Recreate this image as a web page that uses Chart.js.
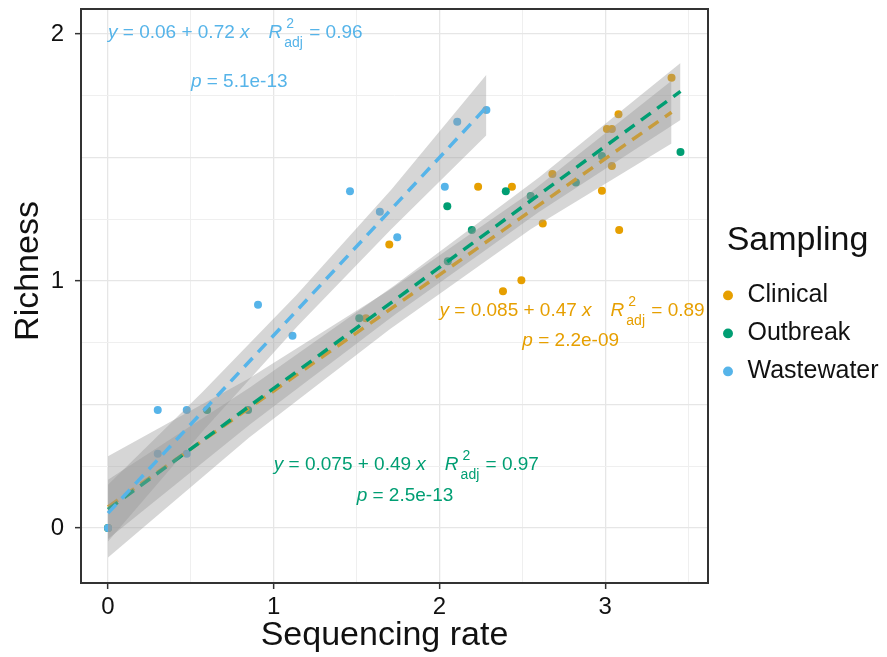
<!DOCTYPE html>
<html>
<head>
<meta charset="utf-8">
<script src="https://cdn.jsdelivr.net/npm/chart.js@4.4.1/dist/chart.umd.min.js"></script>
<style>
  html, body { margin: 0; padding: 0; background: #fff; }
</style>
</head>
<body>
<canvas id="myChart" width="887" height="657"></canvas>
<script>
var FONT = "'Liberation Sans', Arial, Helvetica, sans-serif";

var groups = ['Clinical', 'Outbreak', 'Wastewater'];
var colors = ['#E69F00', '#009E73', '#56B4E9'];

// points
var clinicalX = [0, 1.556, 1.697, 2.233, 2.383, 2.437, 2.494, 2.623, 2.681, 2.98, 3.01, 3.04, 3.04, 3.08, 3.084, 3.40];
var clinicalY = [0, 0.849, 1.148, 1.381, 0.958, 1.381, 1.003, 1.233, 1.433, 1.365, 1.615, 1.615, 1.465, 1.675, 1.206, 1.823];
var outbreakX = [0, 0.598, 0.845, 1.516, 2.047, 2.05, 2.195, 2.40, 2.55, 2.823, 2.98, 3.454];
var outbreakY = [0, 0.477, 0.477, 0.849, 1.302, 1.08, 1.206, 1.363, 1.344, 1.399, 1.506, 1.522];
var wastewaterX = [0, 0.30, 0.30, 0.475, 0.475, 0.905, 1.113, 1.46, 1.64, 1.745, 2.032, 2.107, 2.283];
var wastewaterY = [0, 0.477, 0.30, 0.477, 0.30, 0.904, 0.778, 1.363, 1.28, 1.177, 1.381, 1.645, 1.692];

// fitted lines (as printed on the chart)
var fitIntercept = [0.085, 0.075, 0.06];
var fitSlope = [0.47, 0.49, 0.72];
var fitR2 = ['0.89', '0.97', '0.96'];
var fitP = ['2.2e-09', '2.5e-13', '5.1e-13'];

// confidence bands
var clinicalBandX = [0, 0.85, 1.7, 2.55, 3.40];
var clinicalBandLo = [-0.12, 0.365, 0.804, 1.209, 1.556];
var clinicalBandHi = [0.29, 0.605, 0.964, 1.359, 1.81];
var outbreakBandX = [0, 0.86, 1.73, 2.6, 3.454];
var outbreakBandLo = [-0.045, 0.421, 0.863, 1.279, 1.652];
var outbreakBandHi = [0.195, 0.571, 0.983, 1.419, 1.882];
var wastewaterBandX = [0, 0.57, 1.14, 1.71, 2.283];
var wastewaterBandLo = [-0.055, 0.39, 0.815, 1.21, 1.59];
var wastewaterBandHi = [0.175, 0.55, 0.945, 1.37, 1.835];

// axes
var xGrid = [0, 0.5, 1, 1.5, 2, 2.5, 3, 3.5];
var yGrid = [0, 0.25, 0.5, 0.75, 1, 1.25, 1.5, 1.75, 2];
var xTickLabels = ['0', '1', '2', '3'];
var yTickLabels = ['0', '1', '2'];

var pointX = [clinicalX, outbreakX, wastewaterX];
var pointY = [clinicalY, outbreakY, wastewaterY];
var bandX = [clinicalBandX, outbreakBandX, wastewaterBandX];
var bandLo = [clinicalBandLo, outbreakBandLo, wastewaterBandLo];
var bandHi = [clinicalBandHi, outbreakBandHi, wastewaterBandHi];

// where the equation labels sit (data units)
var labelPos = [
  { x1: 2.0, y1: 0.878, x2: 2.5, y2: 0.757 },
  { x1: 1.0, y1: 0.254, x2: 1.5, y2: 0.132 },
  { x1: 0.0, y1: 2.004, x2: 0.5, y2: 1.806 }
];

function pts(xs, ys) {
  return xs.map(function (x, i) { return { x: x, y: ys[i] }; });
}

var datasets = [];
groups.forEach(function (g, i) {
  datasets.push({
    type: 'scatter',
    label: g,
    data: pts(pointX[i], pointY[i]),
    backgroundColor: colors[i],
    borderWidth: 0,
    pointRadius: 4,
    order: 102 - i
  });
});
groups.forEach(function (g, i) {
  var base = 60 - i * 20;
  datasets.push({
    type: 'line', label: g + ' band',
    data: pts(bandX[i], bandHi[i]),
    borderColor: 'rgba(0,0,0,0)', borderWidth: 0, pointRadius: 0,
    fill: '+1', backgroundColor: 'rgba(153,153,153,0.4)',
    order: base
  });
  datasets.push({
    type: 'line', label: g + ' band lo',
    data: pts(bandX[i], bandLo[i]),
    borderColor: 'rgba(0,0,0,0)', borderWidth: 0, pointRadius: 0,
    fill: false, order: base + 1
  });
  var x0 = Math.min.apply(null, pointX[i]);
  var x1 = Math.max.apply(null, pointX[i]);
  datasets.push({
    type: 'line', label: g + ' fit',
    data: [
      { x: x0, y: fitIntercept[i] + fitSlope[i] * x0 },
      { x: x1, y: fitIntercept[i] + fitSlope[i] * x1 }
    ],
    borderColor: colors[i], borderWidth: 3.5, borderDash: [12, 8],
    pointRadius: 0, fill: false, order: base - 5
  });
});

function isMajorX(v) { return xTickLabels.indexOf(String(v)) >= 0; }
function isMajorY(v) { return yTickLabels.indexOf(String(v)) >= 0; }

// panel border
var panelBorder = {
  id: 'panelBorder',
  afterDraw: function (chart) {
    var a = chart.chartArea, ctx = chart.ctx;
    ctx.save();
    ctx.strokeStyle = '#333333';
    ctx.lineWidth = 2;
    ctx.strokeRect(a.left, a.top, a.right - a.left, a.bottom - a.top);
    ctx.restore();
  }
};

// axis titles
var axisTitles = {
  id: 'axisTitles',
  afterDraw: function (chart) {
    var a = chart.chartArea, ctx = chart.ctx;
    ctx.save();
    ctx.fillStyle = '#111111';
    ctx.font = '34px ' + FONT;
    ctx.textAlign = 'center';
    ctx.textBaseline = 'middle';
    ctx.fillText('Sequencing rate', (a.left + a.right) / 2 - 10, a.bottom + 53);
    ctx.translate(a.left - 52, (a.top + a.bottom) / 2 - 25);
    ctx.rotate(-Math.PI / 2);
    ctx.fillText('Richness', 0, 0);
    ctx.restore();
  }
};

// equation labels
function runs(ctx, x, y, parts, size) {
  parts.forEach(function (p) {
    ctx.font = (p.it ? 'italic ' : '') + size + 'px ' + FONT;
    ctx.fillText(p.t, x, y);
    x += ctx.measureText(p.t).width;
  });
  return x;
}
var eqLabels = {
  id: 'eqLabels',
  afterDatasetsDraw: function (chart) {
    var ctx = chart.ctx, xs = chart.scales.x, ys = chart.scales.y;
    ctx.save();
    ctx.textAlign = 'left';
    ctx.textBaseline = 'middle';
    groups.forEach(function (g, i) {
      var pos = labelPos[i];
      ctx.fillStyle = colors[i];
      var x = xs.getPixelForValue(pos.x1), y = ys.getPixelForValue(pos.y1);
      x = runs(ctx, x, y, [
        { t: 'y', it: true },
        { t: ' = ' + fitIntercept[i] + ' + ' + fitSlope[i] + ' ' },
        { t: 'x', it: true }
      ], 19);
      x += 19;
      x = runs(ctx, x, y, [{ t: 'R', it: true }], 19);
      ctx.font = '14px ' + FONT;
      var w = Math.max(ctx.measureText('2').width, ctx.measureText('adj').width);
      ctx.fillText('2', x + 4, y - 9);
      ctx.fillText('adj', x + 2, y + 10);
      x += w + 3;
      runs(ctx, x, y, [{ t: ' = ' + fitR2[i] }], 19);

      var px = xs.getPixelForValue(pos.x2), py = ys.getPixelForValue(pos.y2);
      runs(ctx, px, py, [{ t: 'p', it: true }, { t: ' = ' + fitP[i] }], 19);
    });
    ctx.restore();
  }
};

var ctx = document.getElementById('myChart').getContext('2d');
var myChart = new Chart(ctx, {
  type: 'scatter',
  data: { datasets: datasets },
  plugins: [panelBorder, axisTitles, eqLabels],
  options: {
    responsive: false,
    animation: false,
    events: [],
    layout: { padding: { top: 9, left: 0, right: 0, bottom: 0 } },
    scales: {
      x: {
        type: 'linear',
        min: -0.163,
        max: 3.62,
        afterBuildTicks: function (s) { s.ticks = xGrid.map(function (v) { return { value: v }; }); },
        afterFit: function (s) { s.height = 74; s.paddingLeft = 0; s.paddingRight = 0; },
        border: { display: false },
        ticks: {
          autoSkip: false, maxRotation: 0, padding: 4,
          color: '#111111',
          font: { size: 24, family: FONT },
          callback: function (v) { return isMajorX(v) ? String(v) : ''; }
        },
        grid: {
          color: function (c) { return isMajorX(c.tick.value) ? '#e6e6e6' : '#efefef'; },
          lineWidth: function (c) { return isMajorX(c.tick.value) ? 1.3 : 1; },
          tickLength: 6,
          tickWidth: 1.5,
          tickColor: function (c) { return isMajorX(c.tick.value) ? '#333333' : 'rgba(0,0,0,0)'; }
        }
      },
      y: {
        type: 'linear',
        min: -0.223,
        max: 2.101,
        afterBuildTicks: function (s) { s.ticks = yGrid.map(function (v) { return { value: v }; }); },
        afterFit: function (s) { s.width = 81; s.paddingTop = 0; s.paddingBottom = 0; },
        border: { display: false },
        ticks: {
          autoSkip: false, padding: 11,
          color: '#111111',
          font: { size: 24, family: FONT },
          callback: function (v) { return isMajorY(v) ? String(v) : ''; }
        },
        grid: {
          color: function (c) { return c.tick.value % 0.5 === 0 ? '#e6e6e6' : '#efefef'; },
          lineWidth: function (c) { return c.tick.value % 0.5 === 0 ? 1.3 : 1; },
          tickLength: 6,
          tickWidth: 1.5,
          tickColor: function (c) { return isMajorY(c.tick.value) ? '#333333' : 'rgba(0,0,0,0)'; }
        }
      }
    },
    plugins: {
      filler: { drawTime: 'beforeDatasetDraw' },
      tooltip: { enabled: false },
      legend: {
        position: 'right',
        fullSize: false,
        maxWidth: 179,
        title: {
          display: true,
          text: 'Sampling',
          color: '#111111',
          position: 'center',
          font: { size: 34, family: FONT },
          padding: { top: 29, bottom: 5 }
        },
        labels: {
          color: '#111111',
          font: { size: 25, family: FONT },
          usePointStyle: true,
          boxWidth: 14,
          boxHeight: 7,
          padding: 13,
          filter: function (item) { return item.datasetIndex < 3; },
          sort: function (a, b) { return a.datasetIndex - b.datasetIndex; }
        }
      }
    }
  }
});
</script>
</body>
</html>
